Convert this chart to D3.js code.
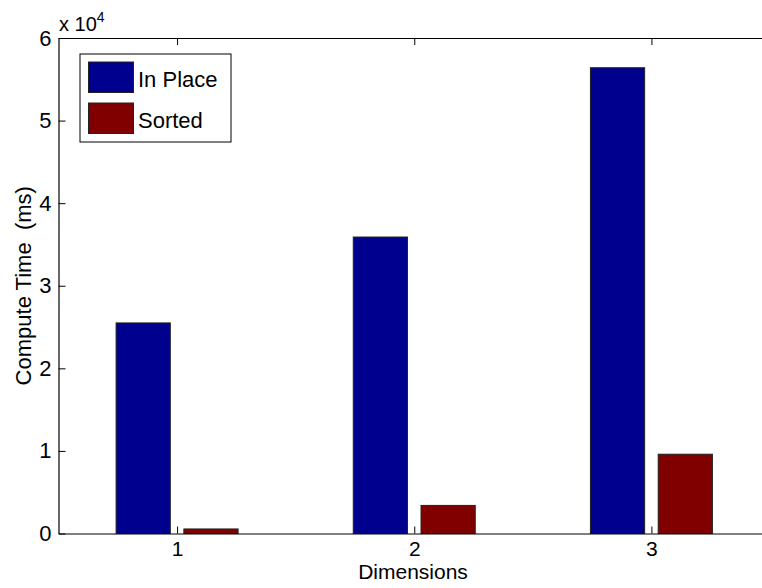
<!DOCTYPE html>
<html>
<head>
<meta charset="utf-8">
<script src="https://cdn.jsdelivr.net/npm/d3@7"></script>
<style>
  html, body { margin: 0; padding: 0; background: #fff; }
  svg { display: block; }
  text { font-family: "Liberation Sans", Arial, sans-serif; fill: #000; }
</style>
</head>
<body>
<svg id="chart" width="762" height="588"></svg>
<script>
const categories = [1, 2, 3];
const seriesNames = ["In Place", "Sorted"];
const inPlace = [25500, 35900, 56400];
const sorted = [550, 3400, 9600];
const yTicks = [0, 10000, 20000, 30000, 40000, 50000, 60000];
const colors = ["#00008F", "#800000"];

const plotL = 58.5, plotR = 770, plotT = 38, plotB = 533.5;
const svg = d3.select("#chart");

const x = d3.scaleLinear().domain([0.5, 3.5]).range([plotL, plotR]);
const y = d3.scaleLinear().domain([0, 60000]).range([plotB, plotT]);

// MATLAB grouped bar geometry (in x units)
const nS = seriesNames.length;
const groupW = Math.min(0.8, nS / (nS + 1.5));
const barW = groupW / nS * 0.8;
const offsets = seriesNames.map((_, i) => -groupW / 2 + groupW / nS * (i + 0.5));

const series = [inPlace, sorted];
series.forEach((vals, si) => {
  svg.append("g").selectAll("rect")
    .data(categories.map((c, i) => ({ c, v: vals[i] })))
    .join("rect")
    .attr("x", d => x(d.c + offsets[si] - barW / 2))
    .attr("width", d => x(d.c + offsets[si] + barW / 2) - x(d.c + offsets[si] - barW / 2))
    .attr("y", d => y(d.v))
    .attr("height", d => y(0) - y(d.v))
    .attr("fill", colors[si])
    .attr("stroke", "#222")
    .attr("stroke-width", 1);
});

// Axes
const yAxis = d3.axisLeft(y).tickValues(yTicks).tickSizeInner(-7).tickSizeOuter(0)
  .tickPadding(7).tickFormat(d => d / 10000);
const gy = svg.append("g").attr("transform", `translate(${plotL},0)`).call(yAxis);
gy.selectAll("text").style("font-size", "22px");

const xAxis = d3.axisBottom(x).tickValues(categories).tickSizeInner(-7).tickSizeOuter(0)
  .tickPadding(8).tickFormat(d3.format("d"));
const gx = svg.append("g").attr("transform", `translate(0,${plotB})`).call(xAxis);
gx.selectAll("text").style("font-size", "21px");

// Top box line with mirrored ticks
const xTop = d3.axisTop(x).tickValues(categories).tickSizeInner(-7).tickSizeOuter(0).tickFormat("");
svg.append("g").attr("transform", `translate(0,${plotT})`).call(xTop);

svg.selectAll(".domain").attr("stroke", "#000").attr("stroke-width", 1.2);
svg.selectAll(".tick line").attr("stroke", "#000");

// Exponent label
const ex = svg.append("text").attr("x", 59).attr("y", 31).style("font-size", "20px");
ex.append("tspan").text("x 10");
ex.append("tspan").attr("dy", -9).style("font-size", "14px").text("4");

// Axis titles
svg.append("text").attr("x", 413).attr("y", 579).attr("text-anchor", "middle")
  .style("font-size", "21px").text("Dimensions");
svg.append("text").attr("transform", `translate(31,${(plotT + plotB) / 2}) rotate(-90)`)
  .attr("text-anchor", "middle").style("font-size", "22px").style("white-space", "pre")
  .text("Compute Time  (ms)");

// Legend
const lg = svg.append("g");
lg.append("rect").attr("x", 80).attr("y", 54).attr("width", 151).attr("height", 88)
  .attr("fill", "#fff").attr("stroke", "#000").attr("stroke-width", 1);
seriesNames.forEach((name, i) => {
  const yy = 62 + i * 41;
  lg.append("rect").attr("x", 88.5).attr("y", yy).attr("width", 45).attr("height", 30.5)
    .attr("fill", colors[i]).attr("stroke", "#222").attr("stroke-width", 1);
  lg.append("text").attr("x", 138).attr("y", yy + 25).style("font-size", "22px").text(name);
});
</script>
</body>
</html>
